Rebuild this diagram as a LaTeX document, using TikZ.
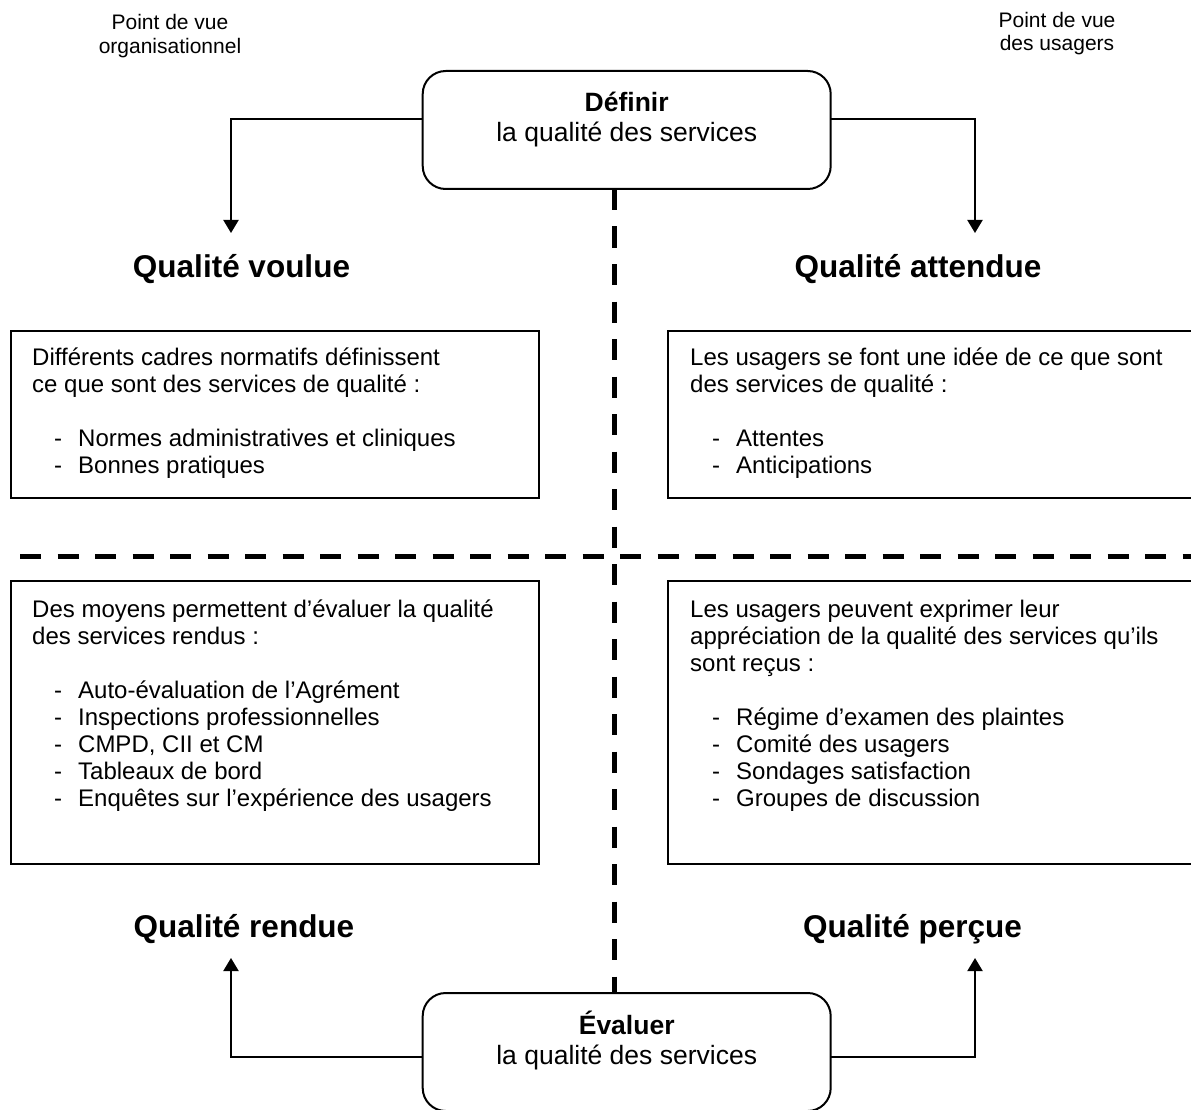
\documentclass[tikz,border=0pt]{standalone}
\usepackage{fontspec}
\setmainfont{Liberation Sans}
\usetikzlibrary{positioning,arrows.meta,calc}
\tikzset{
  hub/.style   ={draw, line width=2pt, rounded corners=23pt, outer sep=0pt,
                 minimum width=408pt, minimum height=118pt},
  hubtxt/.style={anchor=base, align=center, inner sep=0pt,
                 font=\fontsize{26.5}{30}\selectfont},
  panel/.style ={draw, line width=2pt, anchor=north west, outer sep=0pt, inner sep=0pt},
  ptext/.style ={anchor=base west, align=left, inner sep=0pt,
                 font=\fontsize{24}{27}\selectfont},
  head/.style  ={anchor=base, inner sep=0pt, font=\fontsize{31.5}{36}\selectfont\bfseries},
  view/.style  ={anchor=base, align=center, inner sep=0pt, font=\fontsize{21}{23.5}\selectfont},
  fl/.style    ={-{Triangle[width=15pt,length=13pt]}, line width=2pt},
  sep/.style   ={line width=5pt, dash pattern=on 21pt off 16.5pt},
}
\newcommand{\itm}[1]{\hspace*{22pt}\makebox[24pt][l]{-}#1}

\begin{document}
\begin{tikzpicture}[x=1pt,y=-1pt]
  \useasboundingbox (0,0) rectangle (1191,1110);
  \clip (0,0) rectangle (1191,1110);

  % base of a multi-line node = its last line
  \node[view](orgview) at (170,53.5){Point de vue\\organisationnel};
  \node[view](usrview) at (1057,51){Point de vue\\des usagers};

  % definir
  \node[hub, anchor=north](defn) at (626.7,71){};
  \node[hubtxt](defntxt) at ([yshift=-70.7pt]defn.north){\textbf{Définir}\\la qualité des services};
  \coordinate (vtip) at (231,233);
  \coordinate (atip) at (975,233);
  \draw[fl]([yshift=11pt]defn.west) -| (vtip);
  \draw[fl]([yshift=11pt]defn.east) -| (atip);

  \node[head](voulue) at (241.5,277){Qualité voulue};
  \node[head](attendue) at (918,277){Qualité attendue};

  \node[panel, minimum width=528pt, minimum height=167pt](vpanel) at (11,331){};
  \node[ptext](vtext) at (32,473){Différents cadres normatifs définissent\\
    ce que sont des services de qualité :\\[27pt]
    \itm{Normes administratives et cliniques}\\
    \itm{Bonnes pratiques}};

  \node[panel, minimum width=600pt, minimum height=167pt](apanel) at (668,331){};
  \node[ptext](atext) at (690,473){Les usagers se font une idée de ce que sont\\
    des services de qualité :\\[27pt]
    \itm{Attentes}\\
    \itm{Anticipations}};

  % separators
  \draw[sep](20,556) -- (1200,556);

  \node[panel, minimum width=528pt, minimum height=283pt](rpanel) at (11,581){};
  \node[ptext](rtext) at (32,806){Des moyens permettent d’évaluer la qualité\\
    des services rendus :\\[27pt]
    \itm{Auto-évaluation de l’Agrément}\\
    \itm{Inspections professionnelles}\\
    \itm{CMPD, CII et CM}\\
    \itm{Tableaux de bord}\\
    \itm{Enquêtes sur l’expérience des usagers}};

  \node[panel, minimum width=600pt, minimum height=283pt](ppanel) at (668,581){};
  \node[ptext](ptext) at (690,806){Les usagers peuvent exprimer leur\\
    appréciation de la qualité des services qu’ils\\
    sont reçus :\\[27pt]
    \itm{Régime d’examen des plaintes}\\
    \itm{Comité des usagers}\\
    \itm{Sondages satisfaction}\\
    \itm{Groupes de discussion}};

  \node[head](rendue) at (244,937){Qualité rendue};
  \node[head](percue) at (912.5,937){Qualité perçue};

  % evaluer
  \node[hub, anchor=north](evalu) at (626.7,993){};
  \node[hubtxt](evalutxt) at ([yshift=-71pt]evalu.north){\textbf{Évaluer}\\la qualité des services};
  \coordinate (rtip) at (231,958);
  \coordinate (ptip) at (975,958);
  \draw[fl]([yshift=-5pt]evalu.west) -| (rtip);
  \draw[fl]([yshift=-5pt]evalu.east) -| (ptip);

  \draw[sep]([xshift=-12pt]defn.south) -- ([xshift=-12pt]evalu.north);
\end{tikzpicture}
\end{document}
